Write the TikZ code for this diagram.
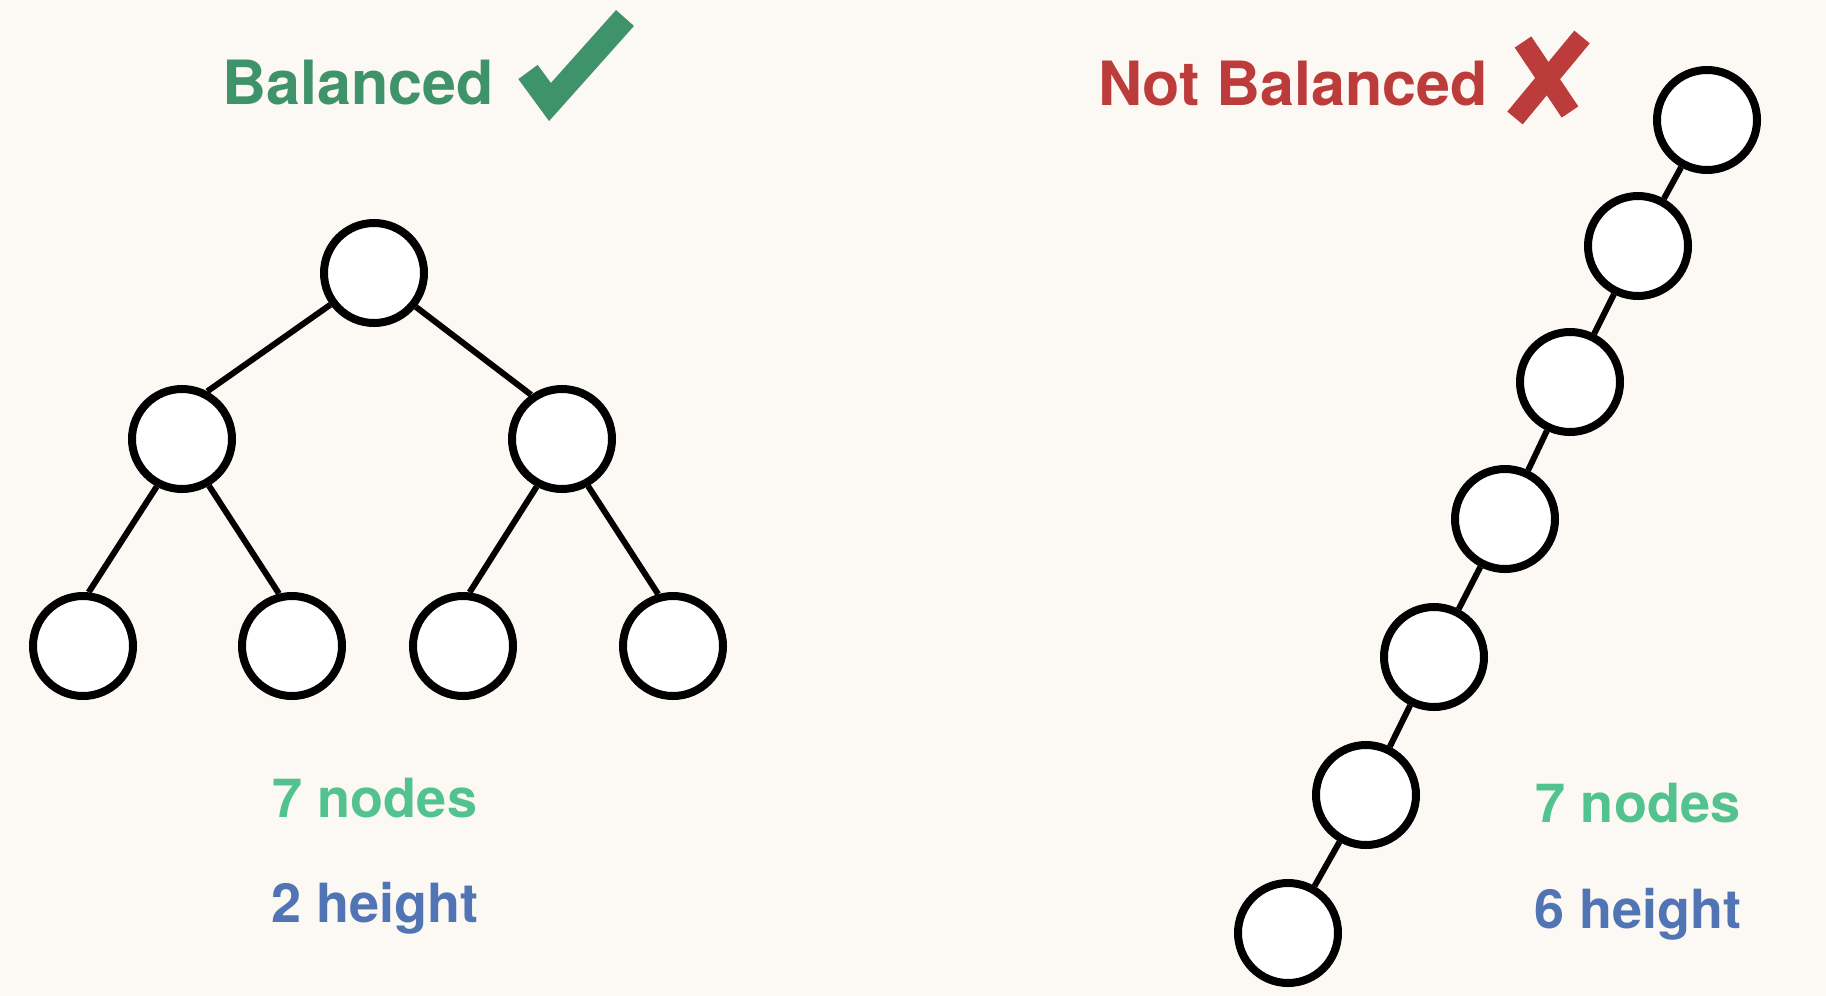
\documentclass[tikz,border=0pt]{standalone}
\usepackage{fontspec}
\setmainfont{TeX Gyre Heros}
\usetikzlibrary{positioning}
\definecolor{paper}{HTML}{FCF8F3}
\definecolor{okgreen}{HTML}{3F936A}
\definecolor{badred}{HTML}{BC3C3C}
\definecolor{countgreen}{HTML}{52C28F}
\definecolor{heightblue}{HTML}{5074B4}

\begin{document}
\begin{tikzpicture}[x=0.5pt,y=-0.5pt,tree node/.style={circle,draw,fill=white,line width=4pt,minimum size=50pt,inner sep=0pt},title/.style={font=\fontsize{30.5}{36}\selectfont\bfseries,anchor=base},stat/.style={font=\fontsize{27}{32}\selectfont\bfseries,anchor=base}]
		\fill[paper] (0,0) rectangle (1826,996);

		% balanced tree
		\node[tree node] (r) at (374,273) {};
		\node[tree node] (l) at (182,439) {};
		\node[tree node] (rr) at (562,439) {};
		\node[tree node] (ll) at (83,646) {};
		\node[tree node] (lr) at (292,646) {};
		\node[tree node] (rl) at (463,646) {};
		\node[tree node] (rrr) at (673,646) {};

		% degenerate chain
		\node[tree node] (c1) at (1707,120) {};
		\node[tree node] (c2) at (1638,246) {};
		\node[tree node] (c3) at (1570,382) {};
		\node[tree node] (c4) at (1505,519) {};
		\node[tree node] (c5) at (1434,657) {};
		\node[tree node] (c6) at (1366,795) {};
		\node[tree node] (c7) at (1288,933) {};

		\path[line width=3pt]
			(r.216) edge (l.62)
			(r.321) edge (rr.125)
			(l.-118) edge (ll.84)
			(l.-60) edge (lr.104)
			(rr.-118) edge (rl.83)
			(rr.-61) edge (rrr.106)
			(c1) edge (c2)
			(c2) edge (c3)
			(c3) edge (c4)
			(c4) edge (c5)
			(c5) edge (c6)
			(c6) edge (c7);

		\node[title,text=okgreen] (bal) at (358,104) {Balanced};
		\node[title,text=badred] (notbal) at (1293,105) {Not Balanced};

		% tick and cross
		\draw[okgreen,line width=12pt] (528,72) -- (550,102) -- (625,18);
		\draw[badred,line width=10pt] (1523,42) -- (1570,112);
		\draw[badred,line width=10pt] (1582,37) -- (1515,118);

		\node[stat,text=countgreen] (n1) at (375,817) {7 nodes};
		\node[stat,text=heightblue] (h1) at (375,922) {2 height};
		\node[stat,text=countgreen] (n2) at (1638,822) {7 nodes};
		\node[stat,text=heightblue] (h2) at (1638,928) {6 height};
\end{tikzpicture}
\end{document}
